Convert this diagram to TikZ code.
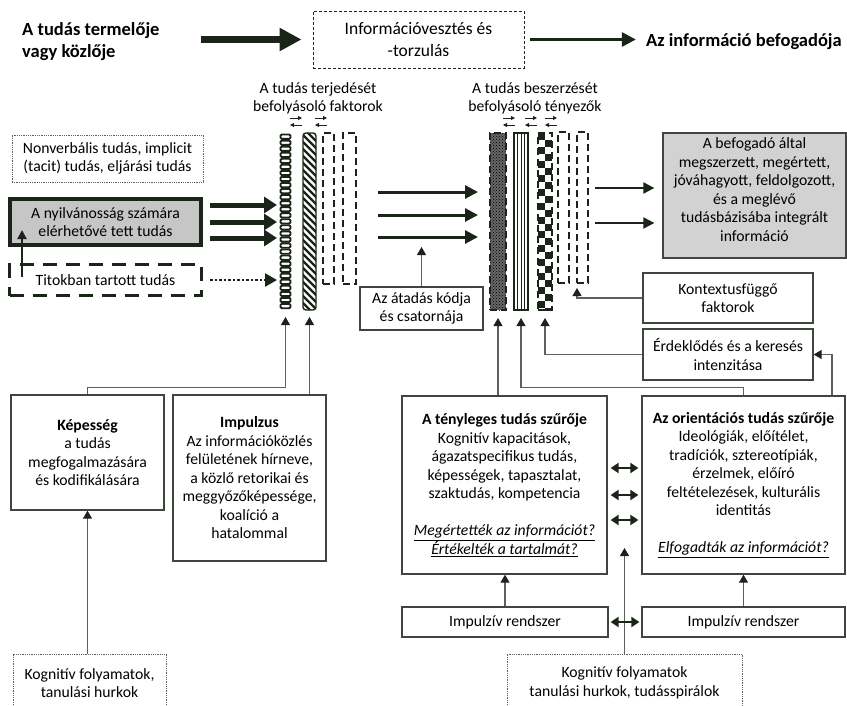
\documentclass[tikz,border=0pt]{standalone}
\usepackage{fontspec}
\setmainfont{Carlito}
\usetikzlibrary{positioning,arrows.meta,patterns}
\definecolor{boxline}{HTML}{3E463E}
\definecolor{conline}{HTML}{5C615C}
\definecolor{inkdark}{HTML}{1B2419}
\definecolor{pubfill}{HTML}{C6C6C6}
\definecolor{recvfill}{HTML}{D2D2D2}

\begin{document}
\begin{tikzpicture}[x=1pt, y=-1pt,
  every node/.style={font=\fontsize{15.7}{18.5}\selectfont, align=center, inner sep=0pt},
  box/.style={draw=boxline, line width=1.3pt},
  dotbox/.style={draw=conline, line width=0.8pt, densely dotted},
  headline/.style={font=\bfseries\fontsize{18.5}{22}\selectfont},
  feed/.style={draw=conline, line width=1.1pt, -{Triangle[length=8pt,width=9pt,color=inkdark]}},
  dbl/.style={draw=inkdark, line width=2pt, {Triangle[length=8pt,width=10pt]}-{Triangle[length=8pt,width=10pt]}},
  tallbar/.style={minimum width=#1, minimum height=177pt, outer sep=0pt},
  shortbar/.style={minimum width=#1, minimum height=151pt, outer sep=0pt},
  dashbar/.style={draw=inkdark, line width=1.8pt, dash pattern=on 7pt off 4pt},
]
\useasboundingbox (0,0) rectangle (847,705);

% top row
\node[headline, anchor=west, align=left] (prod) at (22,42) {A tudás termelője\\vagy közlője};
\node[draw=inkdark, line width=0.9pt, densely dashed, minimum width=211pt, minimum height=57pt,
      font=\fontsize{17.5}{22}\selectfont] (loss) at (418.5,39.5) {Információvesztés és\\-torzulás};
\node[headline, anchor=east] (dest) at (842,42) {Az információ befogadója};
\draw[inkdark, line width=7pt, -{Triangle[length=22pt,width=22pt]}, shorten <=41pt, shorten >=11pt]
  (prod.east |- loss.west) -- (loss.west);
\draw[inkdark, line width=3pt, -{Triangle[length=14pt,width=14pt]}, shorten <=6pt, shorten >=10pt]
  (loss.east) -- (loss.east -| dest.west);

\node (lblL) at (318,98.5) {A tudás terjedését\\befolyásoló faktorok};
\node (lblR) at (535,98.5) {A tudás beszerzését\\befolyásoló tényezők};
\foreach \x in {290,315,503,525,545} {
  \draw[inkdark, line width=0.9pt, -{Triangle[length=4pt,width=4pt]}] (\x,118) -- ({\x+12},118);
  \draw[inkdark, line width=0.9pt, -{Triangle[length=4pt,width=4pt]}] ({\x+12},125) -- (\x,125);
}

% filter patterns
\foreach \k in {0,...,28}
  \draw[inkdark, line width=1.9pt, rounded corners=1.2pt] (280.5,{134.5+6.05*\k}) rectangle (290.5,{138.8+6.05*\k});
\begin{scope}
  \clip[rounded corners=3pt] (303,133) rectangle (316,310);
  \foreach \k in {-3,...,26}
    \draw[inkdark, line width=2.4pt] (301,{133+7*\k}) -- (318,{150+7*\k});
\end{scope}
\fill[black!60] (490,133) rectangle (506,310);
\fill[pattern=crosshatch dots, pattern color=black] (490,133) rectangle (506,310);
\foreach \x in {517.5,521,524.5}
  \draw[inkdark, line width=0.9pt] (\x,133) -- (\x,310);
\begin{scope}
  \clip (538,133) rectangle (552,310);
  \foreach \r in {0,...,25} {
    \pgfmathsetmacro\cx{538+7*mod(\r,2)}
    \fill[inkdark] (\cx,{133+7*\r}) rectangle ++(7,7);
  }
\end{scope}

% filters
\node[tallbar=13pt] (f1) at (285.5,221.5) {};
\node[tallbar=13pt, draw=inkdark, line width=1.4pt, rounded corners=3pt] (f2) at (309.5,221.5) {};
\node[shortbar=11pt, dashbar] (f3) at (328.5,208.5) {};
\node[shortbar=13pt, dashbar] (f4) at (349.5,208.5) {};
\node[tallbar=16pt, dashbar] (fA) at (498,221.5) {};
\node[tallbar=14pt, draw=inkdark, line width=1.6pt] (fB) at (521,221.5) {};
\node[tallbar=14pt, dashbar] (fC) at (545,221.5) {};
\node[shortbar=11pt, dashbar] (fD) at (563.5,207.5) {};
\node[shortbar=11pt, dashbar] (fE) at (582.5,207.5) {};

% sender side
\node[dotbox, minimum width=191pt, minimum height=47pt] (nonv) at (107.5,158.5) {Nonverbális tudás, implicit\\(tacit) tudás, eljárási tudás};
\node[draw=inkdark, fill=pubfill, line width=4pt, minimum width=191pt, minimum height=46pt] (pub) at (105.5,222) {A nyilvánosság számára\\elérhetővé tett tudás};
\node[draw=inkdark, line width=3pt, dash pattern=on 14pt off 9pt, minimum width=192pt, minimum height=31pt] (tit) at (105.5,280) {Titokban tartott tudás};
\node[box, minimum width=123pt, minimum height=43pt] (kod) at (421.5,308.5) {Az átadás kódja\\és csatornája};

% receiver side
\node[box, fill=recvfill, minimum width=183pt, minimum height=125pt] (recv) at (754.5,195.5) {A befogadó által\\megszerzett, megértett,\\jóváhagyott, feldolgozott,\\és a meglévő\\tudásbázisába integrált\\információ\rule[-12pt]{0pt}{12pt}};
\node[box, minimum width=170pt, minimum height=50pt] (kont) at (728,298) {Kontextusfüggő\\faktorok};
\node[box, minimum width=170pt, minimum height=51pt] (erd) at (728,354.5) {Érdeklődés és a keresés\\intenzitása};

% lower boxes
\node[box, minimum width=153pt, minimum height=115pt] (kep) at (87.5,452.5) {\textbf{Képesség}\\a tudás\\megfogalmazására\\és kodifikálására};
\node[box, minimum width=153pt, minimum height=166pt] (imp) at (249.5,478) {\textbf{Impulzus}\\Az információközlés\\felületének hírneve,\\a közlő retorikai és\\meggyőzőképessége,\\koalíció a\\hatalommal};
\node[dotbox, minimum width=153pt, minimum height=58pt] (kogL) at (89.5,683) {Kognitív folyamatok,\\tanulási hurkok};
\node[box, minimum width=205pt, minimum height=178pt] (tenyl) at (504.5,485) {\textbf{A tényleges tudás szűrője}\\Kognitív kapacitások,\\ágazatspecifikus tudás,\\képességek, tapasztalat,\\szaktudás, kompetencia\\[18.5pt]\underline{\textit{Megértették az információt?}}\\\underline{\textit{Értékelték a tartalmát?}}};
\node[box, minimum width=203pt, minimum height=178pt] (orient) at (743.5,485) {\textbf{Az orientációs tudás szűrője}\\Ideológiák, előítélet,\\tradíciók, sztereotípiák,\\érzelmek, előíró\\feltételezések, kulturális\\identitás\\[18.5pt]\underline{\textit{Elfogadták az információt?}}};
\node[box, minimum width=206pt, minimum height=30pt] (impL) at (505,622) {Impulzív rendszer};
\node[box, minimum width=203pt, minimum height=30pt] (impR) at (743.5,622) {Impulzív rendszer};
\node[dotbox, minimum width=235pt, minimum height=58pt] (kogB) at (624.5,683) {Kognitív folyamatok\\tanulási hurkok, tudásspirálok};

% flows into and out of the filters
\foreach \d in {17,0,-16} {
  \coordinate (t) at ([yshift=\d pt]pub.east);
  \draw[inkdark, line width=5pt, -{Triangle[length=13pt,width=16pt]}, shorten <=7pt, shorten >=2pt] (t) -- (t -| f1.west);
}
\draw[inkdark, line width=2.5pt, dash pattern=on 2.5pt off 2pt, -{Triangle[length=12pt,width=13pt]}, shorten <=7pt, shorten >=2pt]
  (tit.east) -- (tit.east -| f1.west);
\draw[inkdark, line width=2pt, -{Triangle[length=9pt,width=9pt]}] ([shift={(14,-3)}]tit.west) -- ([shift={(14,8)}]pub.west);
\foreach \d in {29.5,6.5,-15.5} {
  \coordinate (m) at ([yshift=\d pt]fA.west);
  \draw[inkdark, line width=3pt, -{Triangle[length=13pt,width=13pt]}, shorten <=22pt, shorten >=12pt] (m -| f4.east) -- (m);
}
\foreach \d in {7.5,-27.5} {
  \coordinate (r) at ([yshift=\d pt]recv.west);
  \draw[inkdark, line width=2pt, -{Triangle[length=11pt,width=11pt]}, shorten <=7pt, shorten >=8pt] (r -| fE.east) -- (r);
}
\coordinate (kodtip) at (421.5,247);
\draw[feed] (kod.north) -- (kodtip);

% influences from below
\draw[feed, shorten >=7pt] (kep.north) -- ++(0,-7) -| (f1.south);
\draw[feed, shorten >=7pt] (imp.north -| f2.south) -- (f2.south);
\draw[feed, shorten >=8pt] (tenyl.north -| fA.south) -- (fA.south);
\draw[feed, shorten >=8pt] (orient.north) -- ++(0,-8) -| (fB.south);
\draw[feed, shorten >=8pt] (erd.west) -| (fC.south);
\draw[feed, shorten >=5pt] (kont.west) -| (fE.south west);
\coordinate (erdx) at (832,0);
\draw[feed] (orient.north -| erdx) |- (erd.east);
\draw[feed] (kogL.north -| kep.south) -- (kep.south);
\draw[feed] (impL.north) -- (impL.north |- tenyl.south);
\draw[feed] (impR.north) -- (impR.north |- orient.south);
\coordinate (kogtip) at (624.5,548);
\draw[feed] (kogB.north) -- (kogtip);

\foreach \d in {17,-10,-35} {
  \coordinate (q) at ([yshift=\d pt]tenyl.east);
  \draw[dbl, shorten <=3pt, shorten >=3pt] (q) -- (q -| orient.west);
}
\draw[dbl, shorten <=2pt, shorten >=2pt] (impL.east) -- (impR.west);
\end{tikzpicture}
\end{document}
